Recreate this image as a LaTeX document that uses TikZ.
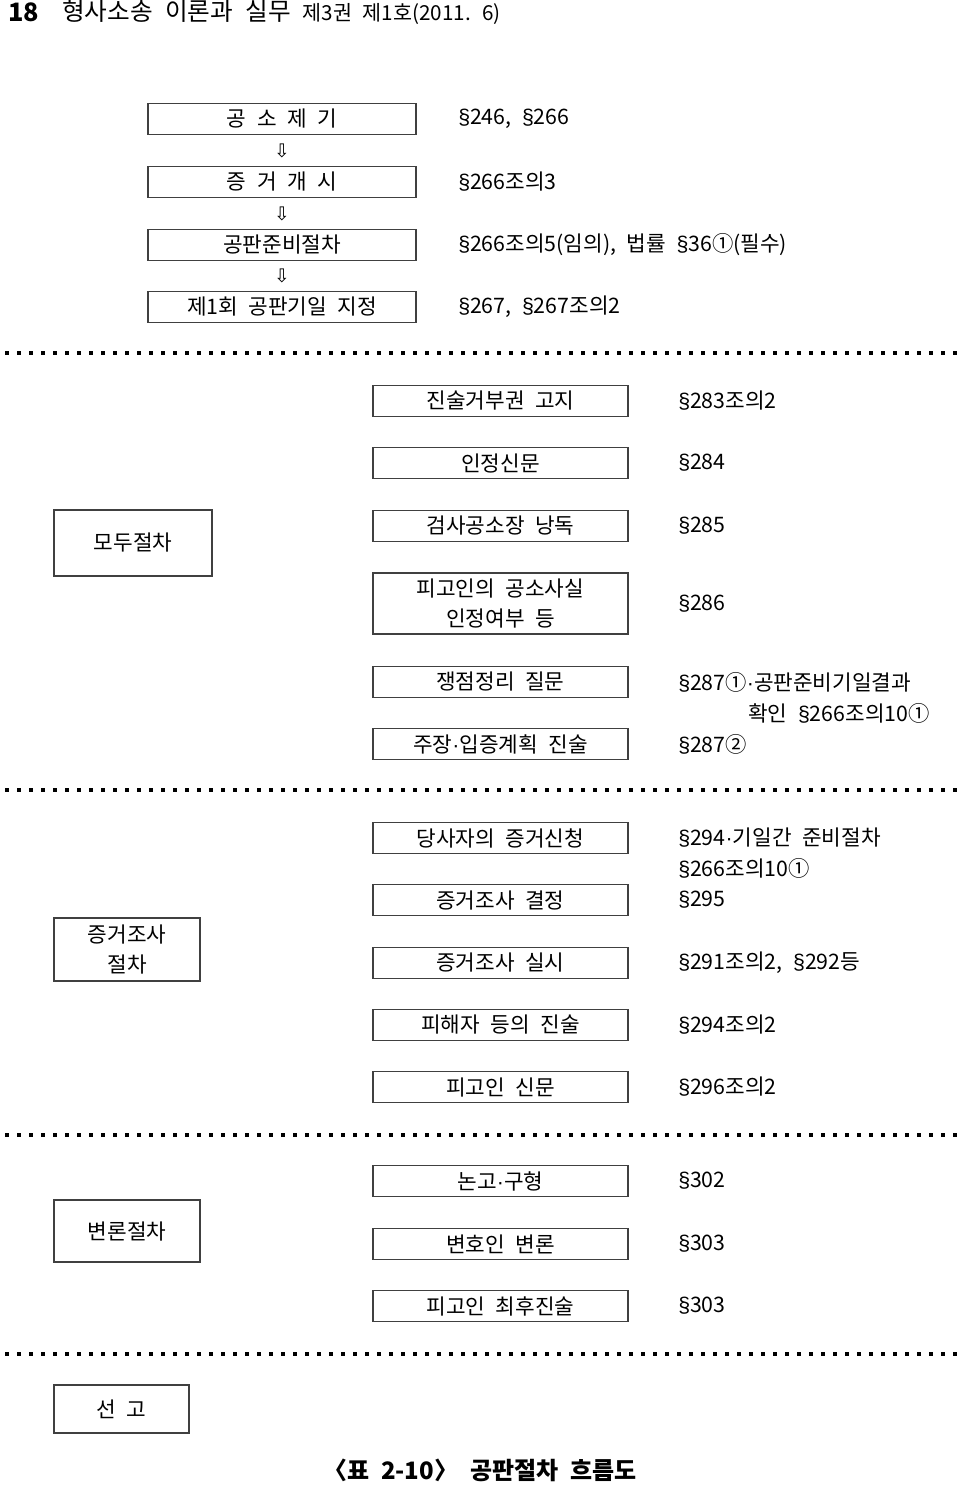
\documentclass[tikz,border=0pt]{standalone}
\usepackage{fontspec}
\setmainfont[WordSpace=2.2]{Noto Sans CJK KR}
\newfontfamily\arrowfont{DejaVu Sans}
\newfontfamily\latinfont{Liberation Sans}
\newcommand\sect{{\latinfont §}}
\newcommand\dt{{\latinfont ·}}
\usetikzlibrary{calc}

\tikzset{
  topbox/.style={draw=black!75,line width=0.9pt,minimum width=201pt,minimum height=23.25pt,inner sep=0pt},
  midbox/.style={topbox,minimum width=191.25pt},
  sidebox/.style={draw=black!75,line width=0.9pt,inner sep=0pt,align=center},
  lawtext/.style={anchor=west,inner sep=0pt},
  sepline/.style={line width=2.8pt,dash pattern=on 3pt off 6pt}
}

\begin{document}
\begin{tikzpicture}[x=0.75pt,y=-0.75pt,font=\fontsize{16}{23}\selectfont]
\useasboundingbox (0,0) rectangle (960,1487);

% page header
\node[lawtext,font=\fontsize{19}{20}\selectfont\bfseries] (page) at (8,12) {18};
\node[lawtext] (journal) at (62,12) {\fontsize{18.5}{20}\selectfont 형사소송 이론과 실무 \fontsize{15.5}{20}\selectfont 제3권 제1호(2011. 6)};

% before the trial
\foreach \name/\y/\txt/\law in {b1/119/공 소 제 기/{\sect246, \sect266},
                                b2/182/증 거 개 시/\sect266조의3,
                                b3/245/공판준비절차/{\sect266조의5(임의), 법률 \sect36①(필수)},
                                b4/307/제1회 공판기일 지정/{\sect267, \sect267조의2}} {
    \node[topbox] (\name) at (282,\y) {\txt};
    \node[lawtext] (\name-law) at (458,\y) {\law};
}
\foreach \a/\b in {b1/b2,b2/b3,b3/b4}
    \node[font=\arrowfont\fontsize{14}{14}\selectfont,inner sep=0pt] (\a-\b) at ($(\a)!0.5!(\b)$) {⇩};

\foreach \y in {353,790,1135,1354}
    \draw[sepline] (5,\y) -- (957,\y);

% opening
\foreach \name/\y/\txt/\law in {m1/401/진술거부권 고지/\sect283조의2,
                                m2/463/인정신문/\sect284,
                                m3/526/검사공소장 낭독/\sect285,
                                m5/682/쟁점정리 질문/\sect287①\dt{}공판준비기일결과,
                                m6/744/주장\dt{}입증계획 진술/\sect287②} {
    \node[midbox] (\name) at (500.5,\y) {\txt};
    \node[lawtext] (\name-law) at (678,\y) {\law};
}
\node[midbox,minimum height=45.75pt,align=center] (m4) at (500.5,603.5) {피고인의 공소사실\\인정여부 등};
\node[lawtext] (m4-law) at (678,603.5) {\sect286};
\node[lawtext] (m5-law2) at (748,713) {확인 \sect266조의10①};
\node[sidebox,minimum width=118.5pt,minimum height=49.5pt] (opening) at (133,543) {모두절차};

% evidence
\foreach \name/\y/\txt/\law in {e1/838/당사자의 증거신청/\sect294\dt{}기일간 준비절차,
                                e2/900/증거조사 결정/\sect295,
                                e3/963/증거조사 실시/{\sect291조의2, \sect292등},
                                e4/1025/피해자 등의 진술/\sect294조의2,
                                e5/1087/피고인 신문/\sect296조의2} {
    \node[midbox] (\name) at (500.5,\y) {\txt};
    \node[lawtext] (\name-law) at (678,\y) {\law};
}
\node[lawtext] (e1-law2) at (678,868) {\sect266조의10①};
\node[sidebox,minimum width=109.5pt,minimum height=47.25pt,font=\fontsize{16}{22}\selectfont] (evidence) at (127,949.5) {증거조사\\절차};

% argument
\foreach \name/\y/\txt/\law in {a1/1181/논고\dt{}구형/\sect302,
                                a2/1244/변호인 변론/\sect303,
                                a3/1306/피고인 최후진술/\sect303} {
    \node[midbox] (\name) at (500.5,\y) {\txt};
    \node[lawtext] (\name-law) at (678,\y) {\law};
}
\node[sidebox,minimum width=109.5pt,minimum height=46.5pt] (argument) at (127,1231) {변론절차};

\node[sidebox,minimum width=101.25pt,minimum height=36pt] (verdict) at (121.5,1409) {선 고};

\node[font=\fontsize{18}{20}\selectfont\bfseries] (caption) at (480,1470) {〈표 2-10〉 공판절차 흐름도};
\end{tikzpicture}
\end{document}
